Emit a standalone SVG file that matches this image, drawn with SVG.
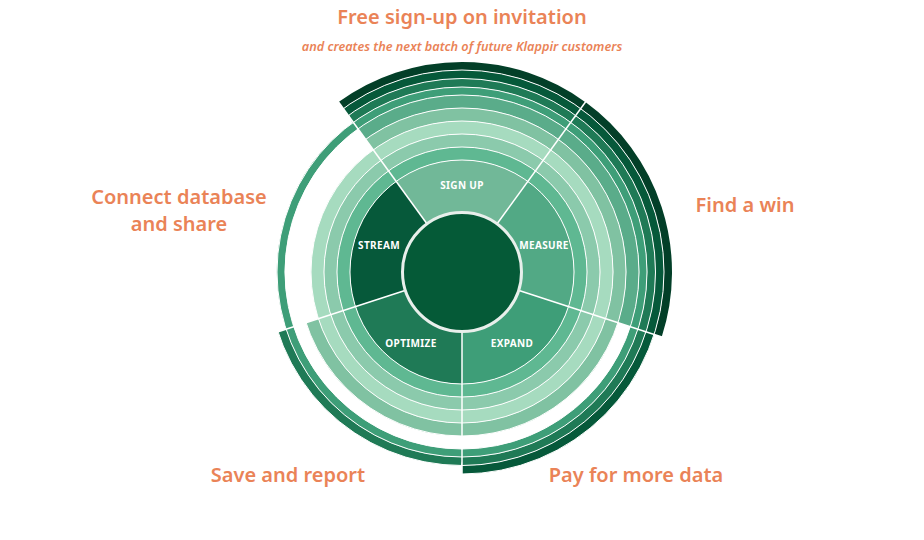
<svg xmlns="http://www.w3.org/2000/svg" width="924" height="540" viewBox="0 0 924 540">
<style>
circle{fill:none}
.c0{stroke:#71b898}.c1{stroke:#52a985}.c2{stroke:#3e9e78}.c3{stroke:#1f7a56}.c4{stroke:#06593a}
.k1{stroke:#5fb892}.k2{stroke:#8bcaac}.k3{stroke:#a6dbbf}.k4{stroke:#80c2a2}.k5{stroke:#5aac8a}.k6{stroke:#3e9e78}.k7{stroke:#1f7a56}.k8{stroke:#06593a}.k9{stroke:#033f28}
.sep{stroke:#fff;stroke-width:1}
.div{stroke:#fff;stroke-width:1.5}
.hub{stroke:#e8efeb;stroke-width:3}
.lab{font-family:"Noto Sans","Open Sans",sans-serif;font-weight:700;font-size:10px;letter-spacing:.35px;fill:#fff;text-anchor:middle}
.cap{font-family:"Noto Sans","Open Sans",sans-serif;font-weight:600;font-size:20px;fill:#ea8357;text-anchor:middle}
.sub{font-family:"Noto Sans","Open Sans",sans-serif;font-weight:600;font-style:italic;font-size:12.7px;fill:#ea8357;text-anchor:middle}
</style>
<g id="captions">
<text class="cap" x="462" y="24">Free sign-up on invitation</text>
<text class="sub" x="462" y="51">and creates the next batch of future Klappir customers</text>
<text class="cap" x="179" y="204">Connect database</text>
<text class="cap" x="179" y="231">and share</text>
<text class="cap" x="745" y="212">Find a win</text>
<text class="cap" x="288" y="482">Save and report</text>
<text class="cap" x="636" y="482">Pay for more data</text>
</g>
<g transform="translate(462 272)">
<g id="sign-up"><g transform="rotate(-126)" fill="none" stroke-dasharray="72 288">
<circle class="c0" pathLength="360" r="86" stroke-width="52"/>
<circle class="k1" pathLength="360" r="118.5" stroke-width="13"/>
<circle class="k2" pathLength="360" r="131.5" stroke-width="13"/>
<circle class="k3" pathLength="360" r="144.5" stroke-width="13"/>
<circle class="k4" pathLength="360" r="157.5" stroke-width="13"/>
<circle class="k5" pathLength="360" r="170.5" stroke-width="13"/>
<circle class="k6" pathLength="360" r="181" stroke-width="8"/>
<circle class="k7" pathLength="360" r="189.25" stroke-width="8.5"/>
<circle class="k8" pathLength="360" r="197.75" stroke-width="8.5"/>
<circle class="k9" pathLength="360" r="206" stroke-width="8"/>
</g></g>
<g id="measure"><g transform="rotate(-54)" fill="none" stroke-dasharray="72 288">
<circle class="c1" pathLength="360" r="86" stroke-width="52"/>
<circle class="k1" pathLength="360" r="118.5" stroke-width="13"/>
<circle class="k2" pathLength="360" r="131.5" stroke-width="13"/>
<circle class="k3" pathLength="360" r="144.5" stroke-width="13"/>
<circle class="k4" pathLength="360" r="157.5" stroke-width="13"/>
<circle class="k5" pathLength="360" r="170.5" stroke-width="13"/>
<circle class="k6" pathLength="360" r="181" stroke-width="8"/>
<circle class="k7" pathLength="360" r="189.25" stroke-width="8.5"/>
<circle class="k8" pathLength="360" r="197.75" stroke-width="8.5"/>
<circle class="k9" pathLength="360" r="206" stroke-width="8"/>
</g></g>
<g id="expand"><g transform="rotate(18)" fill="none" stroke-dasharray="72 288">
<circle class="c2" pathLength="360" r="86" stroke-width="52"/>
<circle class="k1" pathLength="360" r="118.5" stroke-width="13"/>
<circle class="k2" pathLength="360" r="131.5" stroke-width="13"/>
<circle class="k3" pathLength="360" r="144.5" stroke-width="13"/>
<circle class="k4" pathLength="360" r="157.5" stroke-width="13"/>
<circle class="k6" pathLength="360" r="181" stroke-width="8"/>
<circle class="k7" pathLength="360" r="189.25" stroke-width="8.5"/>
<circle class="k8" pathLength="360" r="197.75" stroke-width="8.5"/>
</g></g>
<g id="optimize"><g transform="rotate(90)" fill="none" stroke-dasharray="72 288">
<circle class="c3" pathLength="360" r="86" stroke-width="52"/>
<circle class="k1" pathLength="360" r="118.5" stroke-width="13"/>
<circle class="k2" pathLength="360" r="131.5" stroke-width="13"/>
<circle class="k3" pathLength="360" r="144.5" stroke-width="13"/>
<circle class="k4" pathLength="360" r="157.5" stroke-width="13"/>
<circle class="k6" pathLength="360" r="181" stroke-width="8"/>
<circle class="k7" pathLength="360" r="189.25" stroke-width="8.5"/>
</g></g>
<g id="stream"><g transform="rotate(162)" fill="none" stroke-dasharray="72 288">
<circle class="c4" pathLength="360" r="86" stroke-width="52"/>
<circle class="k1" pathLength="360" r="118.5" stroke-width="13"/>
<circle class="k2" pathLength="360" r="131.5" stroke-width="13"/>
<circle class="k3" pathLength="360" r="144.5" stroke-width="13"/>
<circle class="k6" pathLength="360" r="181" stroke-width="8"/>
</g></g>
<g id="separators">
<circle class="sep" r="112"/><circle class="sep" r="125"/><circle class="sep" r="138"/><circle class="sep" r="151"/><circle class="sep" r="164"/><circle class="sep" r="177"/><circle class="sep" r="185"/><circle class="sep" r="193.5"/><circle class="sep" r="202"/>
<line class="div" y1="-60" y2="-211" transform="rotate(-36)"/>
<line class="div" y1="-60" y2="-211" transform="rotate(36)"/>
<line class="div" y1="-60" y2="-211" transform="rotate(108)"/>
<line class="div" y1="-60" y2="-211" transform="rotate(180)"/>
<line class="div" y1="-60" y2="-211" transform="rotate(252)"/>
</g>
<g id="hub"><circle class="hub" style="fill:#055a37" r="59.5"/></g>
<g id="labels">
<text class="lab" x="0" y="-83">SIGN UP</text>
<text class="lab" x="82" y="-23">MEASURE</text>
<text class="lab" x="50" y="74.5">EXPAND</text>
<text class="lab" x="-51" y="74.5">OPTIMIZE</text>
<text class="lab" x="-83" y="-23">STREAM</text>
</g>
</g>
</svg>
